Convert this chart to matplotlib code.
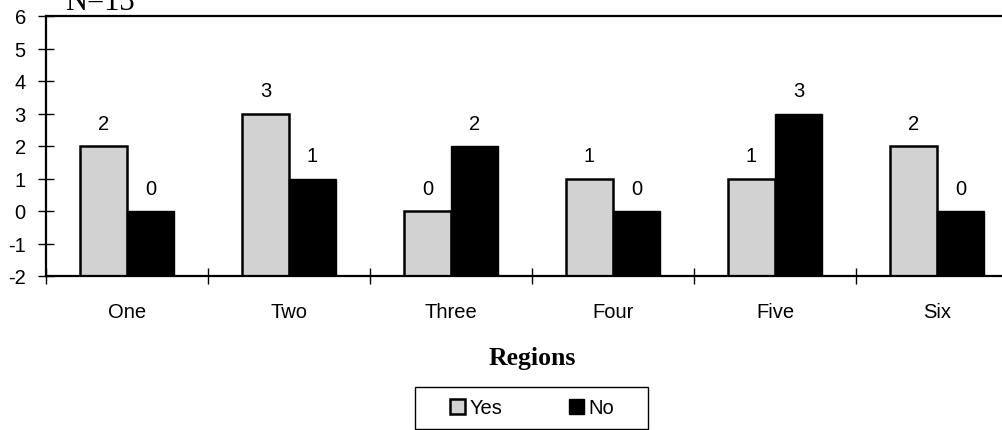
import matplotlib.pyplot as plt
from matplotlib.patches import Rectangle
import numpy as np

regions = ['One', 'Two', 'Three', 'Four', 'Five', 'Six']
yes_vals = [2, 3, 0, 1, 1, 2]
no_vals = [0, 1, 2, 0, 3, 0]
y_ticks = [-2, -1, 0, 1, 2, 3, 4, 5, 6]

BASE = -2
W = 1002
H = 431
FS = 14.5

fig = plt.figure(figsize=(W / 100, H / 100), dpi=100)
# axes runs past the right edge like in the scanned chart
ax = fig.add_axes([46 / W, 1 - 277 / H, 972 / W, 260 / H])

x = np.arange(len(regions))
bw = 0.29
yes_b = ax.bar(x, np.array(yes_vals) - BASE, -bw, bottom=BASE, align='edge',
               color='#d2d2d2', edgecolor='black', linewidth=1.8, label='Yes')
no_b = ax.bar(x, np.array(no_vals) - BASE, bw, bottom=BASE, align='edge',
              color='black', edgecolor='black', linewidth=1.0, label='No')

# value labels above the bars
for xi, v in zip(x, yes_vals):
    ax.text(xi - bw / 2, v + 0.4, str(v), ha='center', va='bottom',
            fontsize=FS, family='Liberation Sans')
for xi, v in zip(x, no_vals):
    ax.text(xi + bw / 2, v + 0.4, str(v), ha='center', va='bottom',
            fontsize=FS, family='Liberation Sans')

ax.set_xlim(-0.5, len(regions) - 0.5)
ax.set_ylim(-2, 6)
ax.set_yticks(y_ticks)
ax.set_yticklabels([str(t) for t in y_ticks], family='Liberation Sans', fontsize=FS)
ax.set_xticks(np.arange(len(regions) + 1) - 0.5)
ax.set_xticklabels([])
ax.set_xticks(x, minor=True)
ax.set_xticklabels(regions, minor=True, family='Liberation Sans', fontsize=FS)
ax.tick_params(axis='x', which='minor', length=0, pad=19)
ax.tick_params(axis='both', which='major', direction='inout', length=11, width=1)
ax.tick_params(axis='y', pad=9)

for s in ['left', 'bottom', 'top']:
    ax.spines[s].set_linewidth(1.6)
ax.spines['right'].set_visible(False)

ax.set_xlabel('Regions', family='Liberation Serif', fontweight='bold',
              fontsize=18.5, labelpad=18)

fig.text(65 / W, 1 - 10 / H, 'N=13', family='Liberation Serif', fontsize=22,
         ha='left', va='baseline')

leg = fig.legend(handles=[yes_b, no_b], loc='center', ncol=2,
                 bbox_to_anchor=(532 / W, 1 - 409 / H), frameon=False,
                 prop={'family': 'Liberation Sans', 'size': FS},
                 handlelength=0.75, handleheight=0.75, handletextpad=0.2,
                 columnspacing=3.3)
# legend box drawn separately (wider than the legend's own padding)
fig.patches.append(Rectangle((415 / W, 1 - 430 / H), 233 / W, 42 / H,
                             transform=fig.transFigure, fill=False,
                             edgecolor='black', linewidth=1.0))

fig.savefig('out.png', dpi=100)
